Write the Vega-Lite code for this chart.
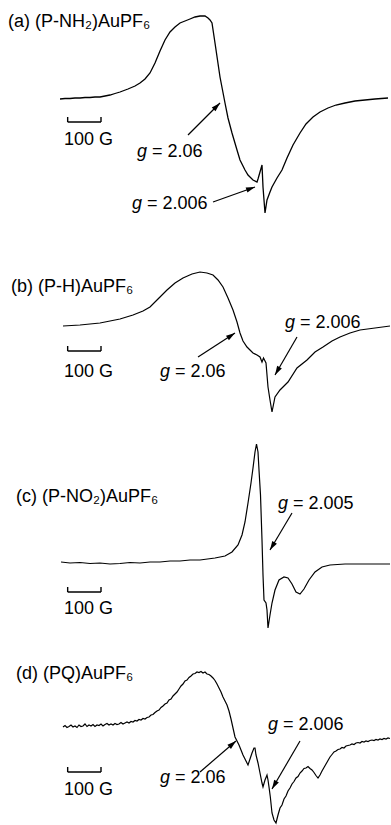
{
"$schema": "https://vega.github.io/schema/vega-lite/v6.json",
"padding": 0,
"spacing": 0,
"bounds": "flush",
"config": {"view": {"stroke": null}, "text": {"font": "Liberation Sans", "fontSize": 18, "color": "black"}},
"datasets": {
"a": [
{"B":180,"I":126},{"B":195,"I":126.5},{"B":210,"I":126.5},{"B":225,"I":127},{"B":240,"I":127},{"B":255,"I":127.5},{"B":270,"I":127.5},{"B":285,"I":128},{"B":300,"I":128},{"B":315,"I":129},{"B":330,"I":130},{"B":345,"I":131.5},{"B":360,"I":133},{"B":384,"I":136},{"B":405,"I":139},{"B":420,"I":142},{"B":435,"I":146},{"B":450,"I":152},{"B":465,"I":162},{"B":480,"I":174},{"B":495,"I":185},{"B":510,"I":193},{"B":525,"I":198},{"B":540,"I":202},{"B":555,"I":204},{"B":570,"I":206},{"B":585,"I":208},{"B":600,"I":209},{"B":615,"I":209},{"B":624,"I":207},{"B":630,"I":205},{"B":636,"I":202},{"B":645,"I":182},{"B":660,"I":148},{"B":675,"I":122},{"B":684,"I":107},{"B":696,"I":92},{"B":711,"I":75},{"B":720,"I":65},{"B":735,"I":55},{"B":744,"I":50},{"B":759,"I":45},{"B":771,"I":43},{"B":774,"I":46},{"B":780,"I":53},{"B":786,"I":60},{"B":789,"I":38},{"B":795,"I":12},{"B":801,"I":25},{"B":810,"I":33},{"B":816,"I":38},{"B":831,"I":47},{"B":846,"I":55},{"B":861,"I":67},{"B":879,"I":80},{"B":900,"I":92},{"B":918,"I":101},{"B":939,"I":108},{"B":960,"I":113},{"B":984,"I":117},{"B":1008,"I":120},{"B":1035,"I":122},{"B":1065,"I":124},{"B":1095,"I":125},{"B":1125,"I":126},{"B":1164,"I":127}
],
"b": [
{"B":189,"I":99},{"B":240,"I":100},{"B":300,"I":102},{"B":360,"I":106},{"B":399,"I":110},{"B":429,"I":114},{"B":450,"I":118},{"B":474,"I":126},{"B":501,"I":135},{"B":525,"I":142},{"B":549,"I":147},{"B":576,"I":151},{"B":600,"I":153},{"B":621,"I":152},{"B":639,"I":150},{"B":654,"I":145},{"B":669,"I":138},{"B":684,"I":127},{"B":699,"I":115},{"B":711,"I":103},{"B":720,"I":92},{"B":729,"I":84},{"B":741,"I":78},{"B":750,"I":75},{"B":759,"I":72},{"B":771,"I":70},{"B":780,"I":68},{"B":786,"I":63},{"B":790.5,"I":67},{"B":798,"I":62},{"B":804,"I":38},{"B":810,"I":25},{"B":816,"I":13},{"B":825,"I":28},{"B":840,"I":35},{"B":864,"I":43},{"B":891,"I":57},{"B":921,"I":65},{"B":945,"I":73},{"B":969,"I":78},{"B":996,"I":84},{"B":1020,"I":88},{"B":1050,"I":92},{"B":1080,"I":95},{"B":1125,"I":97},{"B":1170,"I":99}
],
"c": [
{"B":183,"I":78},{"B":210,"I":77},{"B":240,"I":77.5},{"B":270,"I":76.5},{"B":300,"I":77},{"B":330,"I":76},{"B":360,"I":76.5},{"B":390,"I":77.5},{"B":420,"I":77},{"B":450,"I":78},{"B":480,"I":78},{"B":510,"I":79},{"B":540,"I":79},{"B":570,"I":80},{"B":600,"I":80},{"B":645,"I":82},{"B":675,"I":84},{"B":696,"I":88},{"B":714,"I":95},{"B":726,"I":105},{"B":735,"I":118},{"B":744,"I":137},{"B":753,"I":157},{"B":759,"I":172},{"B":765,"I":188},{"B":769.5,"I":196},{"B":774,"I":188},{"B":777,"I":170},{"B":781.5,"I":145},{"B":786,"I":100},{"B":789,"I":65},{"B":792,"I":40},{"B":798,"I":37},{"B":801,"I":30},{"B":804,"I":12},{"B":810,"I":25},{"B":816,"I":37},{"B":825,"I":50},{"B":837,"I":60},{"B":852,"I":63},{"B":864,"I":62},{"B":876,"I":56},{"B":888,"I":48},{"B":900,"I":46},{"B":912,"I":51},{"B":927,"I":60},{"B":945,"I":68},{"B":966,"I":73},{"B":990,"I":75},{"B":1035,"I":76},{"B":1080,"I":76},{"B":1125,"I":76},{"B":1170,"I":76}
],
"d": [
{"B":189,"I":98},{"B":195,"I":99.5},{"B":201,"I":97.5},{"B":207,"I":98.5},{"B":213,"I":100},{"B":219,"I":98},{"B":225,"I":99},{"B":231,"I":97.5},{"B":237,"I":100},{"B":243,"I":98.5},{"B":249,"I":99},{"B":255,"I":101},{"B":261,"I":98.5},{"B":267,"I":100},{"B":273,"I":99},{"B":279,"I":100.5},{"B":285,"I":98.5},{"B":291,"I":100},{"B":297,"I":99.5},{"B":303,"I":101},{"B":309,"I":99},{"B":315,"I":100.5},{"B":321,"I":101.5},{"B":327,"I":100},{"B":333,"I":101},{"B":339,"I":100},{"B":345,"I":101.5},{"B":351,"I":100.5},{"B":357,"I":101},{"B":363,"I":102.5},{"B":369,"I":101},{"B":375,"I":102},{"B":381,"I":103},{"B":387,"I":102},{"B":393,"I":103.5},{"B":399,"I":103},{"B":405,"I":104.5},{"B":411,"I":104},{"B":417,"I":105.5},{"B":423,"I":105},{"B":429,"I":106.5},{"B":435,"I":106},{"B":441,"I":107.5},{"B":447,"I":108},{"B":453,"I":110},{"B":459,"I":110.5},{"B":465,"I":112.5},{"B":471,"I":114},{"B":477,"I":115},{"B":483,"I":117.5},{"B":489,"I":119},{"B":495,"I":121},{"B":501,"I":122},{"B":507,"I":125},{"B":513,"I":126},{"B":519,"I":129},{"B":525,"I":131},{"B":531,"I":133},{"B":537,"I":136},{"B":543,"I":139},{"B":549,"I":141},{"B":555,"I":144},{"B":561,"I":145},{"B":567,"I":147.5},{"B":573,"I":149},{"B":579,"I":151},{"B":585,"I":151.5},{"B":591,"I":153},{"B":597,"I":152.5},{"B":603,"I":153.5},{"B":609,"I":152},{"B":615,"I":153},{"B":621,"I":151},{"B":627,"I":150.5},{"B":633,"I":149},{"B":639,"I":147},{"B":645,"I":144.5},{"B":651,"I":141},{"B":657,"I":137},{"B":663,"I":133},{"B":669,"I":128},{"B":675,"I":124},{"B":681,"I":120},{"B":687,"I":114},{"B":693,"I":106},{"B":699,"I":97},{"B":705,"I":88},{"B":711,"I":84},{"B":717,"I":80},{"B":723,"I":75},{"B":729,"I":70},{"B":735,"I":66},{"B":741,"I":62},{"B":744,"I":60},{"B":750,"I":66},{"B":756,"I":72},{"B":762,"I":77},{"B":765,"I":77},{"B":768,"I":70},{"B":774,"I":62},{"B":780,"I":52},{"B":786,"I":42},{"B":789,"I":38},{"B":795,"I":45},{"B":801,"I":50},{"B":804,"I":45},{"B":807,"I":38},{"B":811,"I":28},{"B":816,"I":12},{"B":822,"I":5},{"B":828,"I":2},{"B":834,"I":10},{"B":840,"I":17},{"B":846,"I":20},{"B":852,"I":26},{"B":858,"I":29},{"B":864,"I":34},{"B":870,"I":37},{"B":876,"I":41},{"B":882,"I":43.5},{"B":888,"I":47},{"B":894,"I":48.5},{"B":900,"I":52},{"B":906,"I":54},{"B":912,"I":56.5},{"B":918,"I":57},{"B":924,"I":58.5},{"B":930,"I":56.5},{"B":936,"I":55},{"B":942,"I":52.5},{"B":948,"I":49.5},{"B":954,"I":47},{"B":960,"I":50},{"B":966,"I":54},{"B":972,"I":57.5},{"B":978,"I":61},{"B":984,"I":64.5},{"B":990,"I":68},{"B":996,"I":70.5},{"B":1002,"I":73},{"B":1008,"I":74},{"B":1014,"I":75.5},{"B":1020,"I":76},{"B":1026,"I":77.5},{"B":1032,"I":77},{"B":1038,"I":79},{"B":1044,"I":79.5},{"B":1050,"I":80},{"B":1056,"I":81},{"B":1062,"I":80.5},{"B":1068,"I":82},{"B":1074,"I":82.5},{"B":1080,"I":82},{"B":1086,"I":83.5},{"B":1092,"I":83},{"B":1098,"I":84},{"B":1104,"I":83.5},{"B":1110,"I":84.5},{"B":1116,"I":85},{"B":1122,"I":84.5},{"B":1128,"I":85.5},{"B":1134,"I":85},{"B":1140,"I":86},{"B":1146,"I":85.5},{"B":1152,"I":86.5},{"B":1158,"I":86},{"B":1164,"I":87},{"B":1170,"I":86.5}
],
"segs": [
{"p":"a","B":203,"I":103,"B2":303,"I2":103},{"p":"a","B":203,"I":103,"B2":203,"I2":108},{"p":"a","B":303,"I":103,"B2":303,"I2":108},
{"p":"b","B":203,"I":74,"B2":303,"I2":74},{"p":"b","B":203,"I":74,"B2":203,"I2":79},{"p":"b","B":303,"I":74,"B2":303,"I2":79},
{"p":"c","B":203,"I":48,"B2":303,"I2":48},{"p":"c","B":203,"I":48,"B2":203,"I2":53},{"p":"c","B":303,"I":48,"B2":303,"I2":53},
{"p":"d","B":203,"I":53,"B2":303,"I2":53},{"p":"d","B":203,"I":53,"B2":203,"I2":58},{"p":"d","B":303,"I":53,"B2":303,"I2":58}
],
"arrows": [
{"p":"a","B":564,"I":90,"B2":660,"I2":122},{"p":"a","B":639,"I":23,"B2":765,"I2":38},
{"p":"b","B":594,"I":68,"B2":705,"I2":92},{"p":"b","B":891,"I":88,"B2":825,"I2":50},
{"p":"c","B":876,"I":127,"B2":810,"I2":90},
{"p":"d","B":600,"I":53,"B2":708,"I2":84},{"p":"d","B":900,"I":84,"B2":816,"I2":36}
],
"labels": [
{"p":"a","B":24,"I":198,"t":"(a) (P-NH₂)AuPF₆"},{"p":"a","B":192,"I":80,"t":"100 G"},
{"p":"b","B":33,"I":133,"t":"(b) (P-H)AuPF₆"},{"p":"b","B":192,"I":48,"t":"100 G"},
{"p":"c","B":48,"I":138,"t":"(c) (P-NO₂)AuPF₆"},{"p":"c","B":192,"I":26,"t":"100 G"},
{"p":"d","B":48,"I":146,"t":"(d) (PQ)AuPF₆"},{"p":"d","B":192,"I":30,"t":"100 G"}
],
"gs": [
{"p":"a","B":411,"I":68,"v":"= 2.06"},{"p":"a","B":396,"I":16,"v":"= 2.006"},
{"p":"b","B":480,"I":48,"v":"= 2.06"},{"p":"b","B":855,"I":97,"v":"= 2.006"},
{"p":"c","B":834,"I":131,"v":"= 2.005"},
{"p":"d","B":480,"I":42,"v":"= 2.06"},{"p":"d","B":804,"I":95,"v":"= 2.006"}
]
},
"vconcat": [
{"width":391,"height":225,"layer":[
{"data":{"name":"a"},"mark":{"type":"line","color":"black","strokeWidth":1.3},"encoding":{"x":{"field":"B","type":"quantitative","scale":{"domain":[0,1173],"nice":false,"zero":false},"axis":null},"y":{"field":"I","type":"quantitative","scale":{"domain":[0,225],"nice":false,"zero":false},"axis":null}}},
{"data":{"name":"segs"},"transform":[{"filter":"datum.p=='a'"}],"mark":{"type":"rule","color":"black","strokeWidth":1.4},"encoding":{"x":{"field":"B","type":"quantitative"},"y":{"field":"I","type":"quantitative"},"x2":{"field":"B2"},"y2":{"field":"I2"}}},
{"data":{"name":"arrows"},"transform":[{"filter":"datum.p=='a'"}],"mark":{"type":"rule","color":"black","strokeWidth":1.2},"encoding":{"x":{"field":"B","type":"quantitative"},"y":{"field":"I","type":"quantitative"},"x2":{"field":"B2"},"y2":{"field":"I2"}}},
{"data":{"name":"arrows"},"transform":[{"filter":"datum.p=='a'"},{"calculate":"atan2((datum.B2-datum.B)/3, datum.I2-datum.I)*180/PI","as":"ang"}],"mark":{"type":"point","filled":true,"color":"black","opacity":1,"size":324,"shape":"M0,0L-0.3,1L0.3,1Z"},"encoding":{"x":{"field":"B2","type":"quantitative"},"y":{"field":"I2","type":"quantitative"},"angle":{"field":"ang","type":"quantitative","scale":null}}},
{"data":{"name":"labels"},"transform":[{"filter":"datum.p=='a'"}],"mark":{"type":"text","align":"left","baseline":"alphabetic"},"encoding":{"x":{"field":"B","type":"quantitative"},"y":{"field":"I","type":"quantitative"},"text":{"field":"t"}}},
{"data":{"name":"gs"},"transform":[{"filter":"datum.p=='a'"}],"mark":{"type":"text","align":"left","baseline":"alphabetic","fontStyle":"italic","text":"g"},"encoding":{"x":{"field":"B","type":"quantitative"},"y":{"field":"I","type":"quantitative"}}},
{"data":{"name":"gs"},"transform":[{"filter":"datum.p=='a'"}],"mark":{"type":"text","align":"left","baseline":"alphabetic","dx":15},"encoding":{"x":{"field":"B","type":"quantitative"},"y":{"field":"I","type":"quantitative"},"text":{"field":"v"}}}
]},
{"width":391,"height":200,"layer":[
{"data":{"name":"b"},"mark":{"type":"line","color":"black","strokeWidth":1.2},"encoding":{"x":{"field":"B","type":"quantitative","scale":{"domain":[0,1173],"nice":false,"zero":false},"axis":null},"y":{"field":"I","type":"quantitative","scale":{"domain":[0,200],"nice":false,"zero":false},"axis":null}}},
{"data":{"name":"segs"},"transform":[{"filter":"datum.p=='b'"}],"mark":{"type":"rule","color":"black","strokeWidth":1.4},"encoding":{"x":{"field":"B","type":"quantitative"},"y":{"field":"I","type":"quantitative"},"x2":{"field":"B2"},"y2":{"field":"I2"}}},
{"data":{"name":"arrows"},"transform":[{"filter":"datum.p=='b'"}],"mark":{"type":"rule","color":"black","strokeWidth":1.2},"encoding":{"x":{"field":"B","type":"quantitative"},"y":{"field":"I","type":"quantitative"},"x2":{"field":"B2"},"y2":{"field":"I2"}}},
{"data":{"name":"arrows"},"transform":[{"filter":"datum.p=='b'"},{"calculate":"atan2((datum.B2-datum.B)/3, datum.I2-datum.I)*180/PI","as":"ang"}],"mark":{"type":"point","filled":true,"color":"black","opacity":1,"size":324,"shape":"M0,0L-0.3,1L0.3,1Z"},"encoding":{"x":{"field":"B2","type":"quantitative"},"y":{"field":"I2","type":"quantitative"},"angle":{"field":"ang","type":"quantitative","scale":null}}},
{"data":{"name":"labels"},"transform":[{"filter":"datum.p=='b'"}],"mark":{"type":"text","align":"left","baseline":"alphabetic"},"encoding":{"x":{"field":"B","type":"quantitative"},"y":{"field":"I","type":"quantitative"},"text":{"field":"t"}}},
{"data":{"name":"gs"},"transform":[{"filter":"datum.p=='b'"}],"mark":{"type":"text","align":"left","baseline":"alphabetic","fontStyle":"italic","text":"g"},"encoding":{"x":{"field":"B","type":"quantitative"},"y":{"field":"I","type":"quantitative"}}},
{"data":{"name":"gs"},"transform":[{"filter":"datum.p=='b'"}],"mark":{"type":"text","align":"left","baseline":"alphabetic","dx":15},"encoding":{"x":{"field":"B","type":"quantitative"},"y":{"field":"I","type":"quantitative"},"text":{"field":"v"}}}
]},
{"width":391,"height":215,"layer":[
{"data":{"name":"c"},"mark":{"type":"line","color":"black","strokeWidth":1.2},"encoding":{"x":{"field":"B","type":"quantitative","scale":{"domain":[0,1173],"nice":false,"zero":false},"axis":null},"y":{"field":"I","type":"quantitative","scale":{"domain":[0,215],"nice":false,"zero":false},"axis":null}}},
{"data":{"name":"segs"},"transform":[{"filter":"datum.p=='c'"}],"mark":{"type":"rule","color":"black","strokeWidth":1.4},"encoding":{"x":{"field":"B","type":"quantitative"},"y":{"field":"I","type":"quantitative"},"x2":{"field":"B2"},"y2":{"field":"I2"}}},
{"data":{"name":"arrows"},"transform":[{"filter":"datum.p=='c'"}],"mark":{"type":"rule","color":"black","strokeWidth":1.2},"encoding":{"x":{"field":"B","type":"quantitative"},"y":{"field":"I","type":"quantitative"},"x2":{"field":"B2"},"y2":{"field":"I2"}}},
{"data":{"name":"arrows"},"transform":[{"filter":"datum.p=='c'"},{"calculate":"atan2((datum.B2-datum.B)/3, datum.I2-datum.I)*180/PI","as":"ang"}],"mark":{"type":"point","filled":true,"color":"black","opacity":1,"size":324,"shape":"M0,0L-0.3,1L0.3,1Z"},"encoding":{"x":{"field":"B2","type":"quantitative"},"y":{"field":"I2","type":"quantitative"},"angle":{"field":"ang","type":"quantitative","scale":null}}},
{"data":{"name":"labels"},"transform":[{"filter":"datum.p=='c'"}],"mark":{"type":"text","align":"left","baseline":"alphabetic"},"encoding":{"x":{"field":"B","type":"quantitative"},"y":{"field":"I","type":"quantitative"},"text":{"field":"t"}}},
{"data":{"name":"gs"},"transform":[{"filter":"datum.p=='c'"}],"mark":{"type":"text","align":"left","baseline":"alphabetic","fontStyle":"italic","text":"g"},"encoding":{"x":{"field":"B","type":"quantitative"},"y":{"field":"I","type":"quantitative"}}},
{"data":{"name":"gs"},"transform":[{"filter":"datum.p=='c'"}],"mark":{"type":"text","align":"left","baseline":"alphabetic","dx":15},"encoding":{"x":{"field":"B","type":"quantitative"},"y":{"field":"I","type":"quantitative"},"text":{"field":"v"}}}
]},
{"width":391,"height":185,"layer":[
{"data":{"name":"d"},"mark":{"type":"line","color":"black","strokeWidth":1.2},"encoding":{"x":{"field":"B","type":"quantitative","scale":{"domain":[0,1173],"nice":false,"zero":false},"axis":null},"y":{"field":"I","type":"quantitative","scale":{"domain":[0,185],"nice":false,"zero":false},"axis":null}}},
{"data":{"name":"segs"},"transform":[{"filter":"datum.p=='d'"}],"mark":{"type":"rule","color":"black","strokeWidth":1.4},"encoding":{"x":{"field":"B","type":"quantitative"},"y":{"field":"I","type":"quantitative"},"x2":{"field":"B2"},"y2":{"field":"I2"}}},
{"data":{"name":"arrows"},"transform":[{"filter":"datum.p=='d'"}],"mark":{"type":"rule","color":"black","strokeWidth":1.2},"encoding":{"x":{"field":"B","type":"quantitative"},"y":{"field":"I","type":"quantitative"},"x2":{"field":"B2"},"y2":{"field":"I2"}}},
{"data":{"name":"arrows"},"transform":[{"filter":"datum.p=='d'"},{"calculate":"atan2((datum.B2-datum.B)/3, datum.I2-datum.I)*180/PI","as":"ang"}],"mark":{"type":"point","filled":true,"color":"black","opacity":1,"size":324,"shape":"M0,0L-0.3,1L0.3,1Z"},"encoding":{"x":{"field":"B2","type":"quantitative"},"y":{"field":"I2","type":"quantitative"},"angle":{"field":"ang","type":"quantitative","scale":null}}},
{"data":{"name":"labels"},"transform":[{"filter":"datum.p=='d'"}],"mark":{"type":"text","align":"left","baseline":"alphabetic"},"encoding":{"x":{"field":"B","type":"quantitative"},"y":{"field":"I","type":"quantitative"},"text":{"field":"t"}}},
{"data":{"name":"gs"},"transform":[{"filter":"datum.p=='d'"}],"mark":{"type":"text","align":"left","baseline":"alphabetic","fontStyle":"italic","text":"g"},"encoding":{"x":{"field":"B","type":"quantitative"},"y":{"field":"I","type":"quantitative"}}},
{"data":{"name":"gs"},"transform":[{"filter":"datum.p=='d'"}],"mark":{"type":"text","align":"left","baseline":"alphabetic","dx":15},"encoding":{"x":{"field":"B","type":"quantitative"},"y":{"field":"I","type":"quantitative"},"text":{"field":"v"}}}
]}
]
}
